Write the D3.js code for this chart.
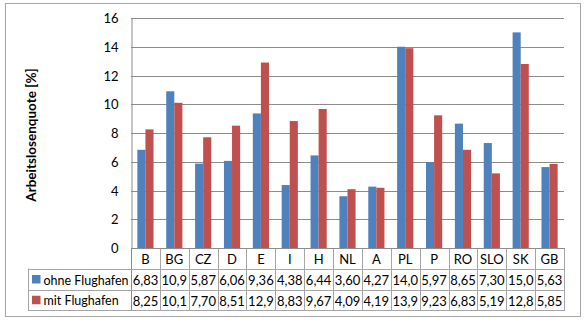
<!DOCTYPE html>
<html>
<head>
<meta charset="utf-8">
<script src="https://cdn.jsdelivr.net/npm/d3@7"></script>
<style>
  html, body { margin: 0; padding: 0; background: #fff; }
  svg text { font-family: Lato, "Open Sans", sans-serif; fill: #000; }
</style>
</head>
<body>
<svg id="chart" width="585" height="326"></svg>
<script>
// Country codes along the x axis
const categories = ["B","BG","CZ","D","E","I","H","NL","A","PL","P","RO","SLO","SK","GB"];
// Unemployment rate (%) without an airport
const ohneFlughafen = [6.83,10.9,5.87,6.06,9.36,4.38,6.44,3.60,4.27,14.0,5.97,8.65,7.30,15.0,5.63];
// Unemployment rate (%) with an airport
const mitFlughafen = [8.25,10.1,7.70,8.51,12.9,8.83,9.67,4.09,4.19,13.9,9.23,6.83,5.19,12.8,5.85];
// Labels shown in the data table (German decimal comma)
const ohneLabels = ["6,83","10,9","5,87","6,06","9,36","4,38","6,44","3,60","4,27","14,0","5,97","8,65","7,30","15,0","5,63"];
const mitLabels = ["8,25","10,1","7,70","8,51","12,9","8,83","9,67","4,09","4,19","13,9","9,23","6,83","5,19","12,8","5,85"];
const yTicks = [0,2,4,6,8,10,12,14,16];

const series = [
  { name: "ohne Flughafen", values: ohneFlughafen, labels: ohneLabels, color: "#4F81BD" },
  { name: "mit Flughafen", values: mitFlughafen, labels: mitLabels, color: "#C0504D" }
];

const svg = d3.select("#chart");
const plot = { left: 131, right: 564, top: 18, bottom: 248 };
const tableLeft = 28;
const rowLines = [248, 268.5, 289.5, 310];
const gridColor = "#8c8c8c";
const tableColor = "#a6a6a6";

// Outer frame
svg.append("rect")
  .attr("x", 5.5).attr("y", 3.5).attr("width", 575).attr("height", 313)
  .attr("fill", "none").attr("stroke", "#a6a6a6").attr("stroke-width", 1);

const x = d3.scaleBand().domain(categories).range([plot.left, plot.right]);
const y = d3.scaleLinear().domain([0, 16]).range([plot.bottom, plot.top]);
const groupW = x.bandwidth() * 0.56;
const xs = d3.scaleBand().domain(series.map(s => s.name)).range([0, groupW]);

// Horizontal gridlines
svg.append("g").selectAll("line").data(yTicks.filter(t => t > 0)).join("line")
  .attr("x1", plot.left).attr("x2", plot.right)
  .attr("y1", d => Math.round(y(d)) + 0.5).attr("y2", d => Math.round(y(d)) + 0.5)
  .attr("stroke", gridColor).attr("stroke-width", 1);

// Y axis with tick labels
const yAxis = d3.axisLeft(y).tickValues(yTicks).tickSize(0).tickPadding(13).tickFormat(d3.format("d"));
const gy = svg.append("g").attr("transform", `translate(${plot.left + 0.5},0)`).call(yAxis);
gy.select(".domain").attr("stroke", gridColor);
gy.selectAll("text").style("font-size", "13px").attr("dy", "0.35em");

// Bars
const groups = svg.append("g").selectAll("g").data(series).join("g")
  .attr("fill", d => d.color);
groups.selectAll("rect")
  .data(s => s.values.map((v, i) => ({ v, c: categories[i], s: s.name })))
  .join("rect")
  .attr("x", d => x(d.c) + (x.bandwidth() - groupW) / 2 + xs(d.s))
  .attr("width", xs.bandwidth())
  .attr("y", d => y(d.v))
  .attr("height", d => y(0) - y(d.v));

// Data table under the plot
const tg = svg.append("g");
// vertical separators between categories
categories.forEach((c, i) => {
  const xx = Math.round(x(c)) + 0.5;
  tg.append("line").attr("x1", xx).attr("x2", xx)
    .attr("y1", plot.bottom).attr("y2", rowLines[3])
    .attr("stroke", i === 0 ? gridColor : tableColor);
});
tg.append("line").attr("x1", plot.right + 0.5).attr("x2", plot.right + 0.5)
  .attr("y1", plot.bottom).attr("y2", rowLines[3]).attr("stroke", tableColor);
// legend column left edge
tg.append("line").attr("x1", tableLeft + 0.5).attr("x2", tableLeft + 0.5)
  .attr("y1", rowLines[1]).attr("y2", rowLines[3]).attr("stroke", tableColor);
// horizontal row lines
tg.append("line").attr("x1", plot.left).attr("x2", plot.right + 1)
  .attr("y1", rowLines[0] + 0.5).attr("y2", rowLines[0] + 0.5).attr("stroke", gridColor);
[1, 2, 3].forEach(k => {
  const yy = Math.round(rowLines[k]) + 0.5;
  tg.append("line").attr("x1", tableLeft).attr("x2", plot.right + 1)
    .attr("y1", yy).attr("y2", yy).attr("stroke", tableColor);
});

// category labels
tg.selectAll("text.cat").data(categories).join("text")
  .attr("class", "cat")
  .attr("x", d => x(d) + x.bandwidth() / 2)
  .attr("y", (rowLines[0] + rowLines[1]) / 2 + 1)
  .attr("text-anchor", "middle").attr("dominant-baseline", "central")
  .style("font-size", "13px").text(d => d);

// series rows: swatch, name and values
series.forEach((s, k) => {
  const cy = (rowLines[k + 1] + rowLines[k + 2]) / 2 + 1;
  tg.append("rect").attr("x", 32).attr("y", cy - 5).attr("width", 8.5).attr("height", 8.5)
    .attr("fill", s.color);
  tg.append("text").attr("x", 43.5).attr("y", cy).attr("dominant-baseline", "central")
    .style("font-size", "12.5px").text(s.name);
  tg.selectAll(null).data(s.labels).join("text")
    .attr("x", (d, i) => x(categories[i]) + x.bandwidth() / 2)
    .attr("y", cy)
    .attr("text-anchor", "middle").attr("dominant-baseline", "central")
    .style("font-size", "13px").text(d => d);
});

// Y axis title
svg.append("text")
  .attr("transform", "translate(36,135) rotate(-90)")
  .attr("text-anchor", "middle")
  .style("font-size", "13.5px").style("font-weight", "bold")
  .text("Arbeitslosenquote [%]");
</script>
</body>
</html>
